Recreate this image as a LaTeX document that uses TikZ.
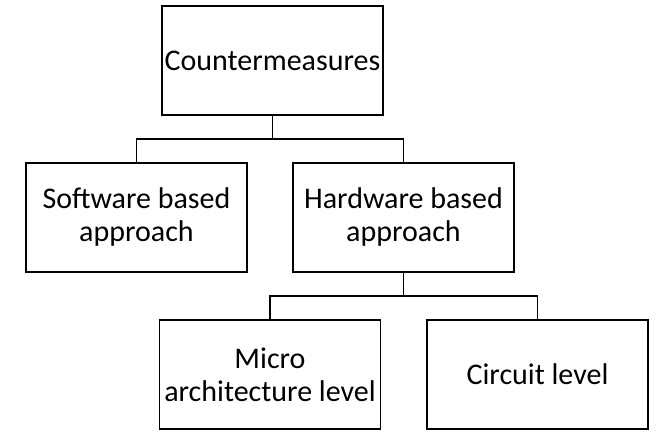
\documentclass[tikz,border=0pt]{standalone}
\usepackage{fontspec}
\setmainfont{Carlito}
\usepackage{tikz}

\begin{document}
\begin{tikzpicture}[x=1pt, y=-1pt, draw=black,
  box/.style={draw, line width=1.6pt, rectangle, minimum width=221pt, minimum height=109pt,
    align=center, inner sep=0pt, font=\fontsize{30}{33}\selectfont},
  link/.style={line width=1.7pt}]
\useasboundingbox (0,0) rectangle (659,444);

\node[box] (cm) at (272.5,60.5) {Countermeasures};

\node[box] (sw) at (136.5,217.5) {Software based\\approach};
\node[box] (hw) at (403.5,217.5) {Hardware based\\approach};

\node[box] (ma) at (270,374.5) {Micro\\architecture level};
\node[box] (cl) at (537.5,374.5) {Circuit level};

% first level bus
\coordinate (busA) at (272.5,139);
\draw [link] (cm.south) -- (busA);
\draw [link] (sw.north) -- (sw.north |- busA) -- (hw.north |- busA) -- (hw.north);

% second level bus
\coordinate (busB) at (403.5,296);
\draw [link] (hw.south) -- (busB);
\draw [link] (ma.north) -- (ma.north |- busB) -- (cl.north |- busB) -- (cl.north);
\end{tikzpicture}
\end{document}
